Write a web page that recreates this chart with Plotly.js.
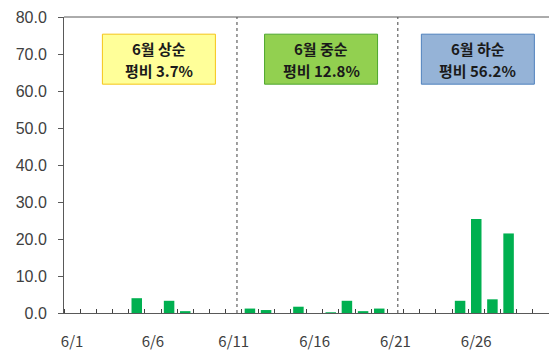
<!DOCTYPE html>
<html>
<head>
<meta charset="utf-8">
<script src="https://cdn.plot.ly/plotly-3.0.1.min.js"></script>
<style>
  html, body { margin: 0; padding: 0; background: #ffffff; }
  #chart { width: 549px; height: 354px; }
</style>
</head>
<body>
<div id="chart"></div>
<script>
// June daily rainfall (mm), day of month 1..30
const days = [1,2,3,4,5,6,7,8,9,10,11,12,13,14,15,16,17,18,19,20,21,22,23,24,25,26,27,28,29,30];
const rain = [0,0,0,0,4.0,0,3.3,0.5,0,0,0,1.2,0.8,0,1.7,0,0.2,3.3,0.5,1.2,0,0,0,0,3.3,25.4,3.7,21.5,0,0];

// Axis labels
const tickDays = [1, 6, 11, 16, 21, 26];
const tickLabels = ['6/1', '6/6', '6/11', '6/16', '6/21', '6/26'];

// Ten-day period boundaries (day position)
const dividers = [11.2, 21.15];

// Ten-day period summaries
const periodTitle = ['6월 상순', '6월 중순', '6월 하순'];
const periodRatio = ['평비 3.7%', '평비 12.8%', '평비 56.2%'];
const periodX = [6.37, 16.4, 26.1];
const periodFill = ['#FFFF99', '#92D050', '#95B3D7'];
const periodLine = ['#F5C518', '#4EA72E', '#4F81BD'];
const boxY = 68.6;

const trace = {
  type: 'bar',
  x: days,
  y: rain,
  width: 0.65,
  marker: { color: '#00B050', line: { width: 0 } },
  hoverinfo: 'x+y'
};

const shapes = dividers.map(d => ({
  type: 'line', xref: 'x', yref: 'paper',
  x0: d, x1: d, y0: 0, y1: 1,
  line: { color: '#404040', width: 1, dash: 'dot' }
}));
shapes.push({
  type: 'line', xref: 'paper', yref: 'paper',
  x0: 0, x1: 1, y0: 1, y1: 1,
  line: { color: '#595959', width: 1 }
});

// Summary boxes, sized in pixels around each period's anchor
periodX.forEach((px, i) => {
  shapes.push({
    type: 'rect', xref: 'x', yref: 'y',
    xsizemode: 'pixel', ysizemode: 'pixel',
    xanchor: px, yanchor: boxY,
    x0: -56.5, x1: 56.5, y0: -25, y1: 25,
    fillcolor: periodFill[i],
    line: { color: periodLine[i], width: 1 }
  });
});

const boxFont = { family: 'Noto Sans CJK KR, sans-serif', size: 15, color: '#1a1a1a' };
const annotations = [];
periodX.forEach((px, i) => {
  annotations.push({
    x: px, y: boxY, xref: 'x', yref: 'y', yshift: 11,
    text: '<b>' + periodTitle[i] + '</b>',
    showarrow: false, font: boxFont
  });
  annotations.push({
    x: px, y: boxY, xref: 'x', yref: 'y', yshift: -11,
    text: '<b>' + periodRatio[i] + '</b>',
    showarrow: false, font: boxFont
  });
});

const layout = {
  width: 549,
  height: 354,
  margin: { l: 64, r: 0, t: 17, b: 41 },
  paper_bgcolor: '#ffffff',
  plot_bgcolor: '#ffffff',
  showlegend: false,
  bargap: 0.35,
  xaxis: {
    range: [0.5, 30.5],
    tickvals: tickDays,
    ticktext: tickLabels,
    ticks: '',
    showgrid: false,
    zeroline: false,
    showline: true,
    linecolor: '#595959',
    linewidth: 1,
    ticklabelstandoff: 15,
    tickfont: { family: 'Noto Sans CJK KR, sans-serif', size: 15, color: '#404040' },
    minor: { tick0: 0.5, dtick: 1, ticks: 'inside', ticklen: 4, tickcolor: '#404040', showgrid: false }
  },
  yaxis: {
    range: [0, 80],
    dtick: 10,
    tickformat: '.1f',
    ticks: 'outside',
    ticklen: 5,
    tickcolor: '#595959',
    showgrid: false,
    zeroline: false,
    showline: true,
    linecolor: '#595959',
    linewidth: 1,
    ticklabelstandoff: 8,
    tickfont: { family: 'Liberation Sans, Arial, sans-serif', size: 16, color: '#404040' }
  },
  shapes: shapes,
  annotations: annotations
};

Plotly.newPlot('chart', [trace], layout, { displayModeBar: false, staticPlot: true });
</script>
</body>
</html>
